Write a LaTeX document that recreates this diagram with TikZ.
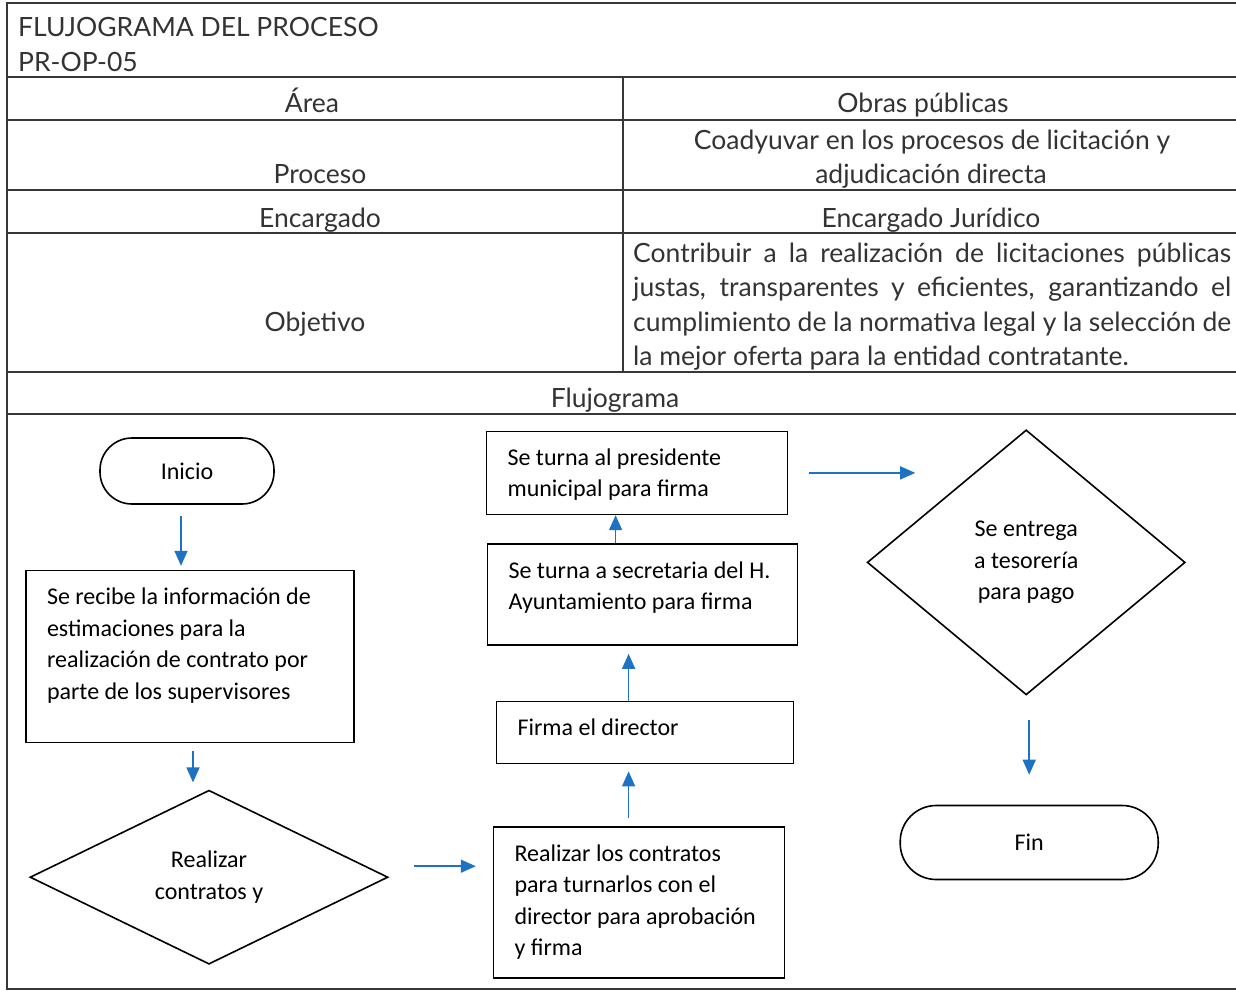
\documentclass[tikz,border=0pt]{standalone}
\usepackage{fontspec}
\setmainfont{Lato}
\newfontfamily\carlito{Carlito}
\usepackage{tikz}
\usetikzlibrary{calc, shapes, arrows.meta, positioning}
\definecolor{flecha}{RGB}{31, 113, 194}
\definecolor{linea}{RGB}{55, 55, 55}
\newcommand{\tablefont}{\fontsize{26.5}{34.5}\selectfont}
\newcommand{\flowfont}{\carlito\fontsize{24}{31.5}\selectfont}
\newcommand{\boxtext}[3]{\parbox[c][#1][t]{#2}{\raggedright\strut #3}}
\tikzset{
    textnode/.style = {draw=none, fill=none, rectangle, inner sep=0em, font=\tablefont, text=black!80},
    boxnode/.style = {draw, rectangle, line width=1.6pt, inner xsep=21pt, inner ysep=12pt, font=\flowfont},
    roundnode/.style = {draw, rectangle, rounded corners=32pt, line width=1.6pt, font=\flowfont},
    diamondnode/.style = {draw, diamond, line width=1.6pt, inner sep=0pt, font=\flowfont, align=center},
    connect/.style = {flecha, line width=1.5pt, -{Triangle[length=15pt, width=13pt]}},
    tableline/.style = {linea, line width=2pt}
}

\begin{document}
\begin{tikzpicture}[x=1pt, y=-1pt]
\useasboundingbox (0,0) rectangle (1236,990);

% table
\draw[tableline] (1245,3) -- (7,3) -- (7,989) -- (1245,989);
\foreach \y in {77,120,190,233,372,414}
  \draw[tableline] (7,\y) -- (1245,\y);
\draw[tableline] (623,77) -- (623,372);

\node [textnode, anchor=base west, name=titulo] at (18,37) {FLUJOGRAMA DEL PROCESO};
\node [textnode, anchor=base west, name=codigo] at (18,71) {PR-OP-05};
\node [textnode, anchor=base, name=area] at (312,112) {Área};
\node [textnode, anchor=base, name=obras] at (923,112) {Obras públicas};
\node [textnode, anchor=base, name=proceso] at (320,183) {Proceso};
\node [textnode, anchor=base, name=coadyuvar] at (932,149) {Coadyuvar en los procesos de licitación y};
\node [textnode, anchor=base, name=adjudicacion] at (931,183) {adjudicación directa};
\node [textnode, anchor=base, name=encargado] at (320,227) {Encargado};
\node [textnode, anchor=base, name=juridico] at (931,227) {Encargado Jurídico};
\node [textnode, anchor=base, name=objetivo] at (315,331) {Objetivo};
\node [textnode, anchor=north west, text width=598pt, align=justify, name=contribuir] at (633,238)
  {\strut Contribuir a la realización de licitaciones públicas\linebreak
   justas, transparentes y eficientes, garantizando el\linebreak
   cumplimiento de la normativa legal y la selección de\linebreak
   la mejor oferta para la entidad contratante.};
\node [textnode, anchor=base, name=flujograma] at (615,407) {Flujograma};

% flowchart
\node [roundnode, minimum width=174pt, minimum height=66pt, name=inicio] at (187,471) {Inicio};
\node [boxnode, below=65pt of inicio, xshift=3pt, name=recibe]
  {\boxtext{148pt}{286pt}{Se recibe la información de\\estimaciones para la\\realización de contrato por\\parte de los supervisores}};
\node [diamondnode, minimum width=358pt, minimum height=174pt, below=46pt of recibe, xshift=19pt, name=decide]
  {Realizar\\contratos y};
\node [boxnode, right=104pt of decide, yshift=-25.5pt, name=realizar]
  {\boxtext{127pt}{249pt}{Realizar los contratos\\para turnarlos con el\\director para aprobación\\y firma}};
\node [boxnode, above=62pt of realizar, xshift=6pt, name=director]
  {\boxtext{38pt}{255pt}{Firma el director}};
\node [boxnode, above=55pt of director, xshift=-2.5pt, name=secretaria]
  {\boxtext{77pt}{268pt}{Se turna a secretaria del H.\\Ayuntamiento para firma}};
\node [boxnode, above=28pt of secretaria, xshift=-5.5pt, name=presidente]
  {\boxtext{59pt}{259pt}{Se turna al presidente\\municipal para firma}};
\node [diamondnode, minimum width=318pt, minimum height=265pt, right=78pt of presidente, yshift=-89.5pt, name=tesoreria]
  {Se entrega\\a tesorería\\para pago};
\node [roundnode, rounded corners=36pt, minimum width=258pt, minimum height=74pt, below=109pt of tesoreria, xshift=3pt, name=fin] {Fin};

\draw [connect, shorten <=11pt, shorten >=4pt] ([xshift=-6pt]inicio.south) -- ([xshift=-6pt]inicio.south |- recibe.north);
\draw [connect, shorten <=8pt, shorten >=7pt] ([xshift=3pt]recibe.south) -- ([xshift=3pt]recibe.south |- decide.north);
\draw [connect, shorten <=25pt, shorten >=17pt] ([yshift=11pt]decide.east) -- ([yshift=11pt]decide.east -| realizar.west);
\draw [connect, shorten <=8pt, shorten >=7pt] ([xshift=-10.5pt]realizar.north) -- ([xshift=-10.5pt]realizar.north |- director.south);
\draw [connect, shorten >=8pt] ([xshift=-16.5pt]director.north) -- ([xshift=-16.5pt]director.north |- secretaria.south);
\draw [connect] ([xshift=-27pt]secretaria.north) -- ([xshift=-27pt]secretaria.north |- presidente.south);
\draw [connect, shorten <=21pt, shorten >=111pt] (presidente.east) -- (presidente.east -| tesoreria.north);
\draw [connect, shorten <=24pt, shorten >=30pt] ([xshift=3pt]tesoreria.south) -- ([xshift=3pt]tesoreria.south |- fin.north);
\end{tikzpicture}
\end{document}
